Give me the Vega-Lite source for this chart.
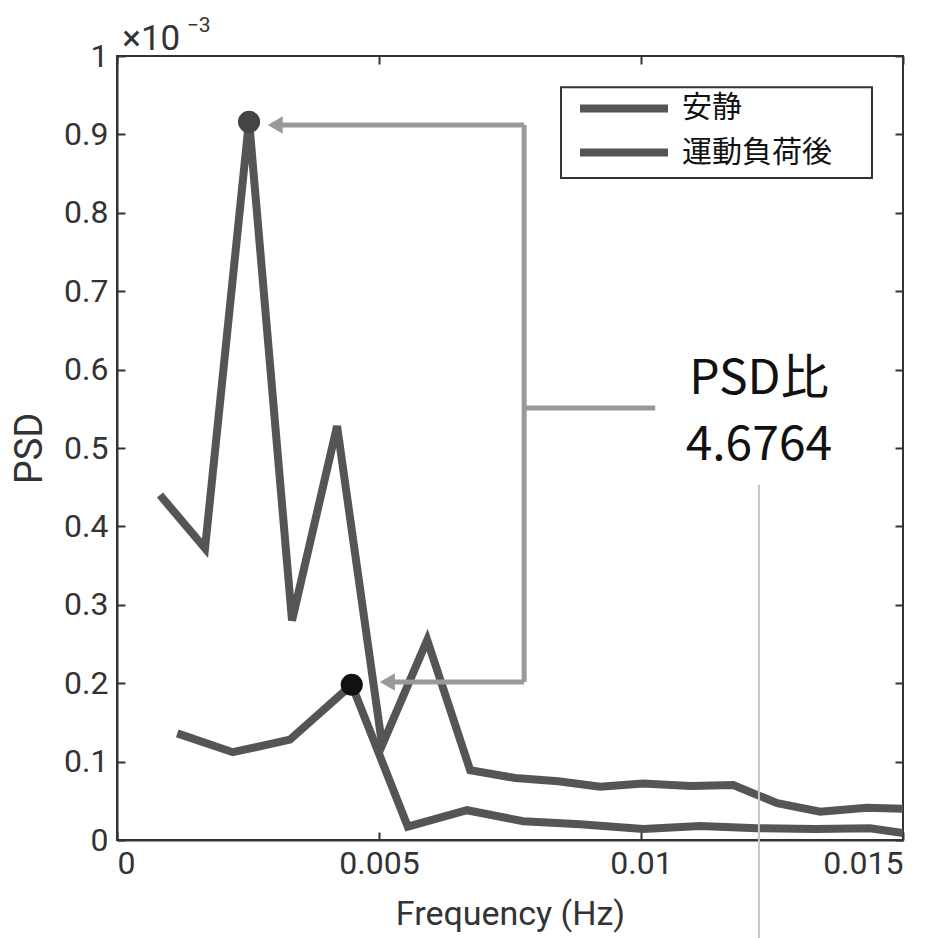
{
  "$schema": "https://vega.github.io/schema/vega-lite/v6.json",
  "width": 786,
  "height": 784,
  "autosize": {"type": "none"},
  "padding": {"left": 117, "top": 56, "right": 43, "bottom": 98},
  "background": "white",
  "config": {
    "view": {"stroke": "#333333", "strokeWidth": 2},
    "axis": {
      "labelFont": "Roboto", "labelFontSize": 32, "labelColor": "#333333",
      "titleFont": "Roboto", "titleFontWeight": "normal", "titleColor": "#333333",
      "domainColor": "#333333", "domainWidth": 2,
      "tickColor": "#333333", "tickWidth": 2, "tickSize": -8,
      "grid": false
    }
  },
  "datasets": {
    "psd": [
      {"f": 0.00082, "psd": 0.000440, "series": "安静"},
      {"f": 0.00168, "psd": 0.000372, "series": "安静"},
      {"f": 0.00252, "psd": 0.000918, "series": "安静"},
      {"f": 0.00334, "psd": 0.000280, "series": "安静"},
      {"f": 0.00420, "psd": 0.000528, "series": "安静"},
      {"f": 0.00506, "psd": 0.000121, "series": "安静"},
      {"f": 0.00592, "psd": 0.000255, "series": "安静"},
      {"f": 0.00674, "psd": 0.000089, "series": "安静"},
      {"f": 0.00760, "psd": 0.000079, "series": "安静"},
      {"f": 0.00842, "psd": 0.000075, "series": "安静"},
      {"f": 0.00922, "psd": 0.000068, "series": "安静"},
      {"f": 0.01004, "psd": 0.000072, "series": "安静"},
      {"f": 0.01094, "psd": 0.000069, "series": "安静"},
      {"f": 0.01176, "psd": 0.000070, "series": "安静"},
      {"f": 0.01260, "psd": 0.000047, "series": "安静"},
      {"f": 0.01342, "psd": 0.000036, "series": "安静"},
      {"f": 0.01431, "psd": 0.000041, "series": "安静"},
      {"f": 0.01500, "psd": 0.000040, "series": "安静"},
      {"f": 0.00115, "psd": 0.000136, "series": "運動負荷後"},
      {"f": 0.00221, "psd": 0.000112, "series": "運動負荷後"},
      {"f": 0.00330, "psd": 0.000128, "series": "運動負荷後"},
      {"f": 0.00448, "psd": 0.000198, "series": "運動負荷後"},
      {"f": 0.00555, "psd": 0.000017, "series": "運動負荷後"},
      {"f": 0.00668, "psd": 0.000038, "series": "運動負荷後"},
      {"f": 0.00775, "psd": 0.000024, "series": "運動負荷後"},
      {"f": 0.00884, "psd": 0.000020, "series": "運動負荷後"},
      {"f": 0.01004, "psd": 0.000014, "series": "運動負荷後"},
      {"f": 0.01113, "psd": 0.000018, "series": "運動負荷後"},
      {"f": 0.01221, "psd": 0.000015, "series": "運動負荷後"},
      {"f": 0.01332, "psd": 0.000014, "series": "運動負荷後"},
      {"f": 0.01437, "psd": 0.000015, "series": "運動負荷後"},
      {"f": 0.01500, "psd": 0.000009, "series": "運動負荷後"}
    ],
    "peaks": [
      {"f": 0.00252, "psd": 0.000916, "kind": "rest"},
      {"f": 0.00448, "psd": 0.000198, "kind": "post"}
    ],
    "arrows": [
      {"x": 0.00300, "y": 0.000912, "x2": 0.00777, "y2": 0.000912},
      {"x": 0.00777, "y": 0.000912, "x2": 0.00777, "y2": 0.0002015},
      {"x": 0.00777, "y": 0.0002015, "x2": 0.00515, "y2": 0.0002015},
      {"x": 0.00777, "y": 0.000551, "x2": 0.01027, "y2": 0.000551}
    ],
    "heads": [
      {"x": 0.00302, "y": 0.000912},
      {"x": 0.00516, "y": 0.0002015}
    ],
    "guide": [
      {"x": 0.01225, "y": 0.000453, "y2": -0.000125}
    ],
    "notes": [
      {"x": 0.01225, "y": 0.000569, "label": "PSD比"},
      {"x": 0.01225, "y": 0.000485, "label": "4.6764"}
    ],
    "exponent": [
      {"x": 0.0001, "y": 0.0010077, "label": "×10", "size": 35},
      {"x": 0.00133, "y": 0.0010306, "label": "−3", "size": 21}
    ],
    "legendbox": [
      {"x": 0.008473, "x2": 0.014408, "y": 0.000960, "y2": 0.0008444}
    ],
    "legenditems": [
      {"x": 0.008836, "x2": 0.010515, "xt": 0.010782, "y": 0.00093304, "label": "安静"},
      {"x": 0.008836, "x2": 0.010515, "xt": 0.010782, "y": 0.00087691, "label": "運動負荷後"}
    ]
  },
  "layer": [
    {
      "data": {"name": "psd"},
      "mark": {"type": "line", "strokeWidth": 8, "strokeJoin": "miter", "clip": true},
      "encoding": {
        "x": {
          "field": "f", "type": "quantitative",
          "scale": {"domain": [0, 0.015], "nice": false, "zero": false},
          "axis": {
            "orient": "bottom", "values": [0, 0.005, 0.01, 0.015],
            "labelExpr": "format(datum.value, '~g')",
            "labelPadding": 16, "title": "Frequency (Hz)", "titleFontSize": 34, "titlePadding": 18
          }
        },
        "y": {
          "field": "psd", "type": "quantitative",
          "scale": {"domain": [0, 0.001], "nice": false, "zero": false},
          "axis": {
            "orient": "left",
            "values": [0, 0.0001, 0.0002, 0.0003, 0.0004, 0.0005, 0.0006, 0.0007, 0.0008, 0.0009, 0.001],
            "labelExpr": "format(datum.value * 1000, '~g')",
            "labelPadding": 17, "title": "PSD", "titleFontSize": 38, "titlePadding": 14
          }
        },
        "color": {
          "field": "series", "type": "nominal",
          "scale": {"domain": ["安静", "運動負荷後"], "range": ["#555555", "#555555"]},
          "legend": null
        }
      }
    },
    {
      "data": {"name": "arrows"},
      "mark": {"type": "rule", "color": "#999999", "strokeWidth": 5},
      "encoding": {
        "x": {"field": "x", "type": "quantitative", "axis": null},
        "y": {"field": "y", "type": "quantitative", "axis": null},
        "x2": {"field": "x2"},
        "y2": {"field": "y2"}
      }
    },
    {
      "data": {"name": "heads"},
      "mark": {"type": "point", "shape": "triangle-left", "filled": true, "color": "#999999", "size": 300, "opacity": 1},
      "encoding": {
        "x": {"field": "x", "type": "quantitative", "axis": null},
        "y": {"field": "y", "type": "quantitative", "axis": null}
      }
    },
    {
      "data": {"name": "peaks"},
      "mark": {"type": "point", "shape": "circle", "filled": true, "size": 490, "opacity": 1},
      "encoding": {
        "x": {"field": "f", "type": "quantitative", "axis": null},
        "y": {"field": "psd", "type": "quantitative", "axis": null},
        "fill": {
          "field": "kind", "type": "nominal",
          "scale": {"domain": ["rest", "post"], "range": ["#444444", "#111111"]},
          "legend": null
        }
      }
    },
    {
      "data": {"name": "guide"},
      "mark": {"type": "rule", "color": "#c4c4c4", "strokeWidth": 2},
      "encoding": {
        "x": {
          "field": "x", "type": "quantitative",
          "axis": {"orient": "top", "values": [0, 0.005, 0.01, 0.015], "labels": false, "title": null, "domain": false}
        },
        "y": {
          "field": "y", "type": "quantitative",
          "axis": {
            "orient": "right",
            "values": [0, 0.0001, 0.0002, 0.0003, 0.0004, 0.0005, 0.0006, 0.0007, 0.0008, 0.0009, 0.001],
            "labels": false, "title": null, "domain": false
          }
        },
        "y2": {"field": "y2"}
      }
    },
    {
      "data": {"name": "notes"},
      "mark": {"type": "text", "font": "Noto Sans CJK JP", "fontSize": 48, "color": "#111111", "align": "center", "baseline": "alphabetic"},
      "encoding": {
        "x": {"field": "x", "type": "quantitative", "axis": null},
        "y": {"field": "y", "type": "quantitative", "axis": null},
        "text": {"field": "label"}
      }
    },
    {
      "data": {"name": "exponent"},
      "mark": {"type": "text", "font": "Roboto", "color": "#333333", "align": "left", "baseline": "alphabetic"},
      "encoding": {
        "x": {"field": "x", "type": "quantitative", "axis": null},
        "y": {"field": "y", "type": "quantitative", "axis": null},
        "text": {"field": "label"},
        "size": {"field": "size", "type": "quantitative", "scale": null, "legend": null}
      }
    },
    {
      "data": {"name": "legendbox"},
      "mark": {"type": "rect", "fill": "white", "stroke": "#333333", "strokeWidth": 2},
      "encoding": {
        "x": {"field": "x", "type": "quantitative", "axis": null},
        "x2": {"field": "x2"},
        "y": {"field": "y", "type": "quantitative", "axis": null},
        "y2": {"field": "y2"}
      }
    },
    {
      "data": {"name": "legenditems"},
      "mark": {"type": "rule", "color": "#555555", "strokeWidth": 8},
      "encoding": {
        "x": {"field": "x", "type": "quantitative", "axis": null},
        "x2": {"field": "x2"},
        "y": {"field": "y", "type": "quantitative", "axis": null}
      }
    },
    {
      "data": {"name": "legenditems"},
      "mark": {"type": "text", "font": "Noto Sans CJK JP", "fontSize": 30, "color": "#111111", "align": "left", "baseline": "middle"},
      "encoding": {
        "x": {"field": "xt", "type": "quantitative", "axis": null},
        "y": {"field": "y", "type": "quantitative", "axis": null},
        "text": {"field": "label"}
      }
    }
  ],
  "resolve": {"axis": {"x": "independent", "y": "independent"}}
}
